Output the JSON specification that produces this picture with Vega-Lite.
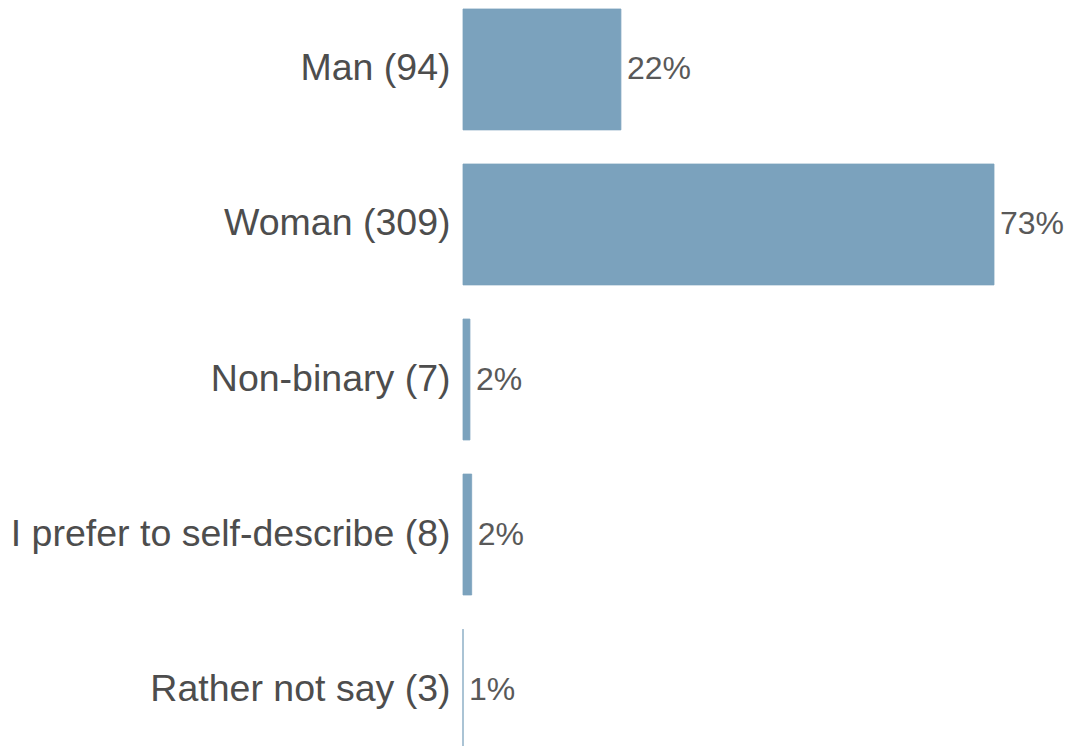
{
  "$schema": "https://vega.github.io/schema/vega-lite/v6.json",
  "autosize": {"type": "none"},
  "padding": {"left": 463, "right": 72, "top": 0, "bottom": 0},
  "width": 531,
  "height": 759,
  "background": "white",
  "config": {"view": {"stroke": null}, "font": "Liberation Sans"},
  "data": {
    "values": [
      {"label": "Man (94)", "count": 94, "pct": 0.2233},
      {"label": "Woman (309)", "count": 309, "pct": 0.7340},
      {"label": "Non-binary (7)", "count": 7, "pct": 0.0166},
      {"label": "I prefer to self-describe (8)", "count": 8, "pct": 0.0190},
      {"label": "Rather not say (3)", "count": 3, "pct": 0.0071}
    ]
  },
  "encoding": {
    "y": {
      "field": "label",
      "type": "nominal",
      "sort": null,
      "scale": {"paddingInner": 0.22, "paddingOuter": 0.058},
      "axis": {
        "title": null,
        "domain": false,
        "ticks": false,
        "labelPadding": 13,
        "labelFontSize": 37.5,
        "labelColor": "#4d4d4d",
        "labelLimit": 0,
        "labelFont": "Liberation Sans"
      }
    },
    "x": {
      "field": "count",
      "type": "quantitative",
      "scale": {"domain": [3, 309], "zero": false},
      "axis": null
    }
  },
  "layer": [
    {
      "mark": {"type": "bar", "color": "#7ba2bd", "stroke": "#7ba2bd", "strokeWidth": 0.8},
      "encoding": {"x2": {"datum": 3}}
    },
    {
      "mark": {"type": "text", "align": "left", "baseline": "middle", "dx": 6, "fontSize": 32, "color": "#595959", "font": "Liberation Sans"},
      "encoding": {
        "text": {"field": "pct", "type": "quantitative", "format": ".0%"}
      }
    }
  ]
}
